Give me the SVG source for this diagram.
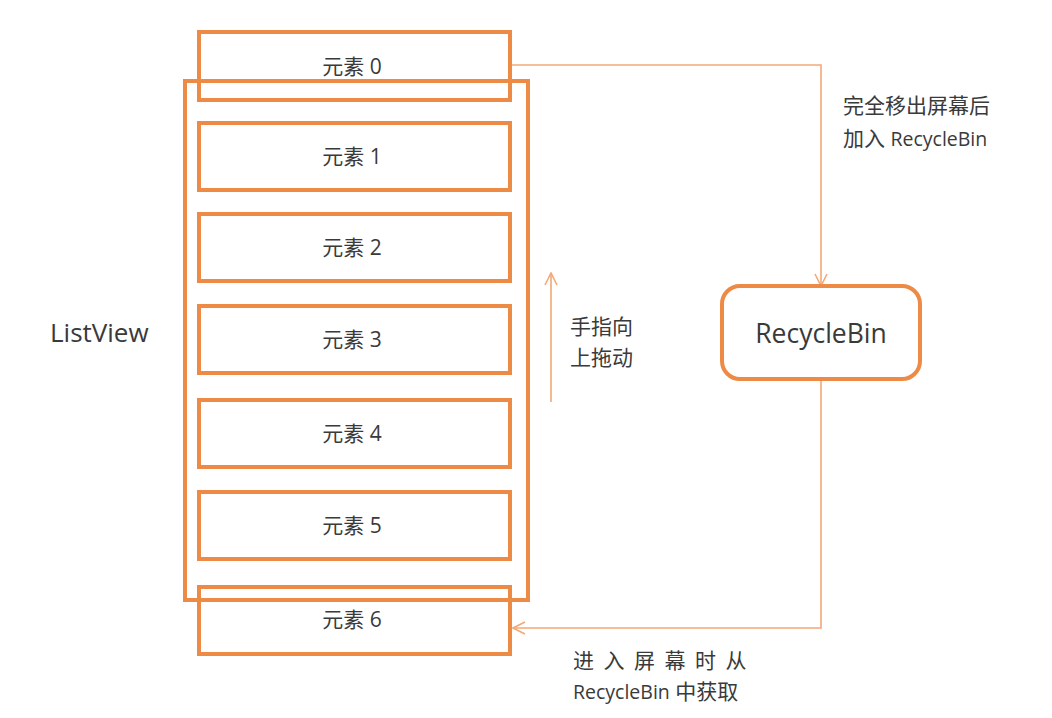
<svg xmlns="http://www.w3.org/2000/svg" width="1052" height="718" viewBox="0 0 1052 718">
<defs>
<style>
.box{fill:none;stroke:#ED8A45;stroke-width:4}
.lv{fill:none;stroke:#ED8A45;stroke-width:4}
.rb{fill:#fff;stroke:#ED8A45;stroke-width:4}
.con{fill:none;stroke:#F3A877;stroke-width:1.6}
.t{font-family:"Open Sans","Noto Sans CJK SC",sans-serif;fill:#3a3a3a}
.el{font-size:21px;text-anchor:middle}
.lab{font-size:21px}
.lat{font-size:19.5px}
</style>
<marker id="arr" viewBox="0 0 14 14" refX="13" refY="7" markerWidth="14" markerHeight="14" markerUnits="userSpaceOnUse" orient="auto">
<path d="M1,1 L13,7 L1,13" fill="none" stroke="#F3A877" stroke-width="1.6"/>
</marker>
</defs>
<rect width="1052" height="718" fill="#ffffff"/>
<g id="connectors">
<path class="con" d="M512,65 H821 V286" marker-end="url(#arr)"/>
<path class="con" d="M821,381 V628 H513" marker-end="url(#arr)"/>
<path class="con" d="M551,402 V273" marker-end="url(#arr)"/>
</g>
<g id="listview">
<rect class="lv" x="185" y="81" width="343" height="519"/>
<text class="t" x="50" y="342" font-size="26">ListView</text>
</g>
<g id="item0"><rect class="box" x="199" y="32" width="311" height="68"/><text class="t el" x="352" y="74">元素 0</text></g>
<g id="item1"><rect class="box" x="199" y="123" width="311" height="67"/><text class="t el" x="352" y="164">元素 1</text></g>
<g id="item2"><rect class="box" x="199" y="214" width="311" height="67"/><text class="t el" x="352" y="255">元素 2</text></g>
<g id="item3"><rect class="box" x="199" y="306" width="311" height="67"/><text class="t el" x="352" y="347">元素 3</text></g>
<g id="item4"><rect class="box" x="199" y="400" width="311" height="67"/><text class="t el" x="352" y="441">元素 4</text></g>
<g id="item5"><rect class="box" x="199" y="492" width="311" height="67"/><text class="t el" x="352" y="533">元素 5</text></g>
<g id="item6"><rect class="box" x="199" y="587" width="311" height="67"/><text class="t el" x="352" y="627">元素 6</text></g>
<g id="recyclebin">
<rect class="rb" x="722" y="286" width="198" height="93" rx="18"/>
<text class="t" x="821" y="343" font-size="26.5" text-anchor="middle">RecycleBin</text>
</g>
<g id="labels">
<text class="t lab" x="570" y="334">手指向</text>
<text class="t lab" x="570" y="365">上拖动</text>
<text class="t lab" x="843" y="113">完全移出屏幕后</text>
<text class="t lab" x="843" y="146">加入 <tspan class="lat">RecycleBin</tspan></text>
<text class="t lab" x="573" y="668" letter-spacing="9.5">进入屏幕时从</text>
<text class="t lab" x="573" y="699"><tspan class="lat">RecycleBin</tspan> 中获取</text>
</g>
</svg>
